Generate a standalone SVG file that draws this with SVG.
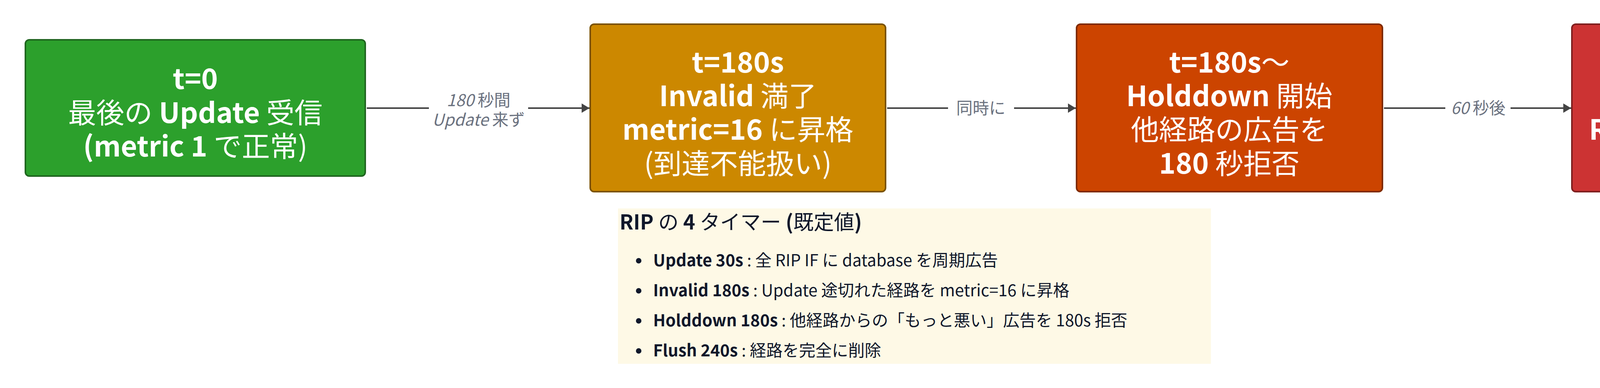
<svg xmlns="http://www.w3.org/2000/svg" width="4682" height="994" viewBox="0 0 4682 994">
<style>
text { font-family: "Noto Sans CJK JP", "Noto Sans", sans-serif; }
.nl { font-size: 72px; fill: #ffffff; text-anchor: middle; font-weight: 700; }
.r { font-weight: 400; }
.el { font-size: 42px; fill: #6b7280; text-anchor: middle; font-style: italic; }
.up { font-style: normal; }
.edge { fill: none; stroke: #444444; stroke-width: 4; marker-end: url(#arrow); }
.lbg { fill: #ffffff; }
.lg { fill: #0f172a; }
.lgt { font-size: 52px; font-weight: 700; }
.lgb { font-size: 42px; font-weight: 700; }
</style>
<defs>
<marker id="arrow" viewBox="0 0 20 24" refX="20" refY="12" markerWidth="20" markerHeight="24" markerUnits="userSpaceOnUse" orient="auto">
<path d="M0,0 L20,12 L0,24 z" fill="#444444"/>
</marker>
</defs>
<rect width="4682" height="994" fill="#ffffff"/>

<g id="connectors">
<path class="edge" d="M939,277 L1509,277"/>
<rect class="lbg" x="1098" y="232" width="254" height="100"/>
<text class="el" x="1225" y="272">180 <tspan class="up">秒間</tspan></text>
<text class="el" x="1225" y="322">Update <tspan class="up">来ず</tspan></text>
<path class="edge" d="M2271,277 L2754,277"/>
<rect class="lbg" x="2427" y="252" width="169" height="50"/>
<text class="el up" x="2511" y="292">同時に</text>
<path class="edge" d="M3543,277 L4022,277"/>
<rect class="lbg" x="3700" y="252" width="167" height="50"/>
<text class="el" x="3784" y="292">60 <tspan class="up">秒後</tspan></text>
</g>

<g id="node-t0">
<rect x="65" y="102" width="870" height="349" rx="10" fill="#2ca02c" stroke="#1f661f" stroke-width="4"/>
<text class="nl" x="500" y="228">t=0</text>
<text class="nl" x="500" y="315"><tspan class="r">最後の</tspan> Update <tspan class="r">受信</tspan></text>
<text class="nl" x="500" y="401">(metric 1 <tspan class="r">で正常)</tspan></text>
</g>

<g id="node-t180-invalid">
<rect x="1511" y="62" width="756" height="429" rx="10" fill="#cc8800" stroke="#7a5200" stroke-width="4"/>
<text class="nl" x="1889" y="186">t=180s</text>
<text class="nl" x="1889" y="272">Invalid <tspan class="r">満了</tspan></text>
<text class="nl" x="1889" y="358">metric=16 <tspan class="r">に昇格</tspan></text>
<text class="nl r" x="1889" y="445">(到達不能扱い)</text>
</g>

<g id="node-t180-holddown">
<rect x="2756" y="62" width="783" height="429" rx="10" fill="#cc4400" stroke="#7f2a00" stroke-width="4"/>
<text class="nl" x="3147" y="186">t=180s<tspan class="r">〜</tspan></text>
<text class="nl" x="3147" y="272">Holddown <tspan class="r">開始</tspan></text>
<text class="nl r" x="3147" y="358">他経路の広告を</text>
<text class="nl" x="3147" y="445">180 <tspan class="r">秒拒否</tspan></text>
</g>

<g id="node-t240">
<rect x="4024" y="62" width="595" height="429" rx="10" fill="#cc3333" stroke="#7f1f1f" stroke-width="4"/>
<text class="nl" x="4321" y="186">t=240s</text>
<text class="nl" x="4321" y="272">Flush <tspan class="r">満了</tspan></text>
<text class="nl" x="4321" y="358">RIB / database</text>
<text class="nl r" x="4321" y="445">から削除</text>
</g>

<g id="legend">
<rect x="1582" y="534" width="1518" height="398" fill="#fef9e6"/>
<text class="lg lgt" x="1586" y="588">RIP <tspan class="r">の</tspan> 4 <tspan class="r">タイマー</tspan> (<tspan class="r">既定値</tspan>)</text>
<circle class="lg" cx="1635" cy="668" r="7"/>
<text class="lg lgb" x="1672" y="682">Update 30s<tspan class="r"> : 全 RIP IF に database を周期広告</tspan></text>
<circle class="lg" cx="1635" cy="745" r="7"/>
<text class="lg lgb" x="1672" y="759">Invalid 180s<tspan class="r"> : Update 途切れた経路を metric=16 に昇格</tspan></text>
<circle class="lg" cx="1635" cy="822" r="7"/>
<text class="lg lgb" x="1672" y="836">Holddown 180s<tspan class="r"> : 他経路からの「もっと悪い」広告を 180s 拒否</tspan></text>
<circle class="lg" cx="1635" cy="899" r="7"/>
<text class="lg lgb" x="1672" y="913">Flush 240s<tspan class="r"> : 経路を完全に削除</tspan></text>
</g>
</svg>
